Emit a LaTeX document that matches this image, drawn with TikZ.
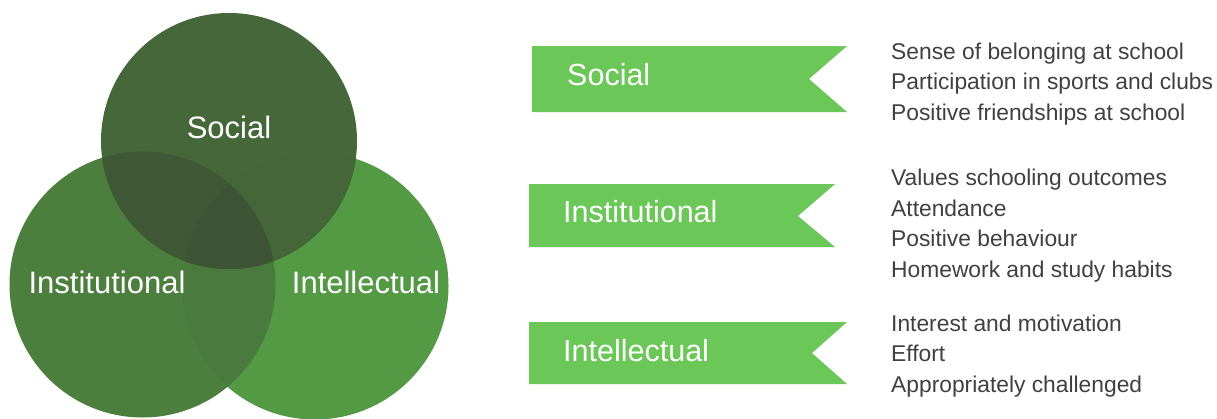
\documentclass[tikz,border=0pt]{standalone}
\usepackage{fontspec}
\setmainfont{Liberation Sans}
\definecolor{cS}{RGB}{69,103,58}
\definecolor{cI}{RGB}{76,127,62}
\definecolor{cT}{RGB}{84,154,69}
\definecolor{cSI}{RGB}{63,89,54}
\definecolor{cST}{RGB}{68,102,57}
\definecolor{cIT}{RGB}{74,122,62}
\definecolor{cSIT}{RGB}{61,85,53}
\definecolor{ribbon}{RGB}{106,199,88}
\definecolor{listgrey}{RGB}{64,64,64}
\tikzset{
  circlabel/.style={text=white,font=\fontsize{31}{31}\selectfont,anchor=base,inner sep=0pt},
  riblabel/.style={text=white,font=\fontsize{30.5}{30.5}\selectfont,anchor=base west,inner sep=0pt},
  listtext/.style={text=listgrey,font=\fontsize{22.8}{30.5}\selectfont,anchor=base west,inner sep=0pt,align=left},
  ribbonshape/.style={fill=ribbon,draw=none}
}
\begin{document}
\begin{tikzpicture}[x=1pt,y=-1pt]
\useasboundingbox (0,0) rectangle (1217,418);
\def\SocC{(229,141) circle (128)}
\def\InsC{(142.5,284.5) circle (133)}
\def\IntC{(315,286) circle (133.5)}
% base circles
\fill[cI] \InsC;
\fill[cT] \IntC;
\begin{scope}\clip \InsC; \fill[cIT] \IntC; \end{scope}
\fill[cS] \SocC;
\begin{scope}\clip \SocC; \fill[cSI] \InsC; \end{scope}
\begin{scope}\clip \SocC; \fill[cST] \IntC; \end{scope}
\begin{scope}\clip \SocC; \clip \InsC; \fill[cSIT] \IntC; \end{scope}
% circle labels
\node[circlabel] (lsoc) at (229,138) {Social};
\node[circlabel] (lins) at (107,293) {Institutional};
\node[circlabel] (lint) at (366,293) {Intellectual};
% ribbons
\fill[ribbonshape] (532,46) -- (847,46) -- (809,79) -- (847,112) -- (532,112) -- cycle;
\fill[ribbonshape] (529,184) -- (835,184) -- (798,216) -- (835,247) -- (529,247) -- cycle;
\fill[ribbonshape] (529,322) -- (847,322) -- (812,353) -- (847,384) -- (529,384) -- cycle;
\node[riblabel] (rsoc) at (567,85) {Social};
\node[riblabel] (rins) at (563,222) {Institutional};
\node[riblabel] (rint) at (563,361) {Intellectual};
% lists (anchored at the baseline of the last line)
\node[listtext] (tsoc) at (891,120) {Sense of belonging at school\\Participation in sports and clubs\\Positive friendships at school};
\node[listtext] (tins) at (891,277) {Values schooling outcomes\\Attendance\\Positive behaviour\\Homework and study habits};
\node[listtext] (tint) at (891,392) {Interest and motivation\\Effort\\Appropriately challenged};
\end{tikzpicture}
\end{document}
